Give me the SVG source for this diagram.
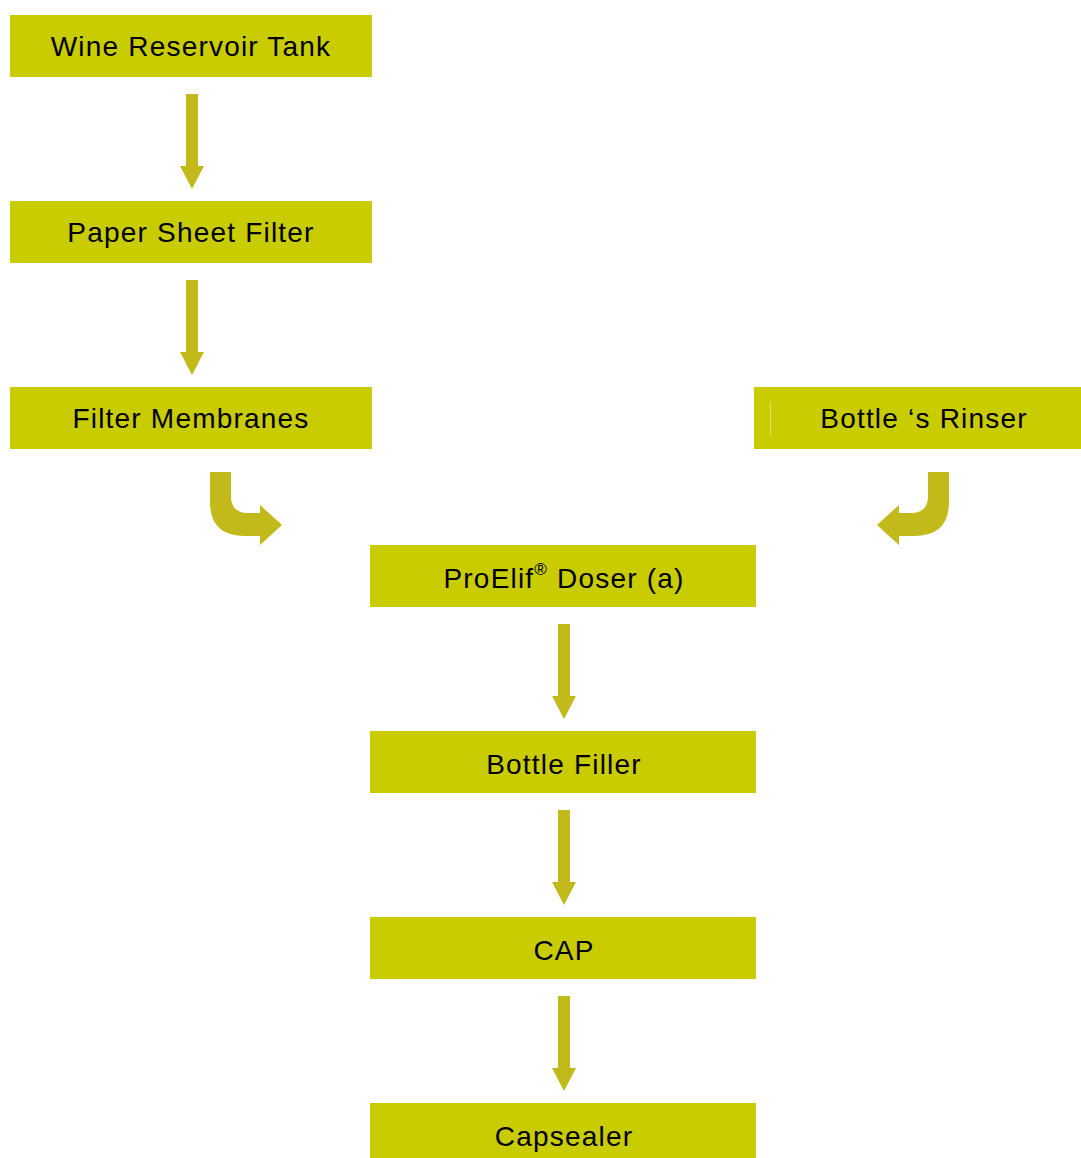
<svg xmlns="http://www.w3.org/2000/svg" width="1081" height="1158" viewBox="0 0 1081 1158">
<style>
.box{fill:#c8cc00}
.lbl{font-family:"Liberation Sans",Arial,sans-serif;font-size:28px;letter-spacing:1.2px;fill:#000;text-anchor:middle;dominant-baseline:central}
.sup{font-size:17px;baseline-shift:9px}
.arr{fill:#c2b91b}
</style>
<defs>
<path id="down" d="M-6,0 L6,0 L6,72 L12,72 L0,95 L-12,72 L-6,72 Z"/>
</defs>
<rect width="1081" height="1158" fill="#fff"/>
<g id="wine-reservoir-tank"><rect class="box" x="10" y="15" width="362" height="62"/><text class="lbl" x="191" y="46">Wine Reservoir Tank</text></g>
<g id="paper-sheet-filter"><rect class="box" x="10" y="201" width="362" height="62"/><text class="lbl" x="191" y="232">Paper Sheet Filter</text></g>
<g id="filter-membranes"><rect class="box" x="10" y="387" width="362" height="62"/><text class="lbl" x="191" y="418">Filter Membranes</text></g>
<g id="bottles-rinser"><rect class="box" x="754" y="387" width="327" height="62"/><line x1="770.5" y1="402" x2="770.5" y2="435" stroke="#dfe27a" stroke-width="1"/><text class="lbl" x="924" y="418">Bottle ‘s Rinser</text></g>
<g id="proelif-doser"><rect class="box" x="370" y="545" width="386" height="62"/><text class="lbl" x="564" y="578">ProElif<tspan class="sup">®</tspan> Doser (a)</text></g>
<g id="bottle-filler"><rect class="box" x="370" y="731" width="386" height="62"/><text class="lbl" x="564" y="764">Bottle Filler</text></g>
<g id="cap"><rect class="box" x="370" y="917" width="386" height="62"/><text class="lbl" x="564" y="950">CAP</text></g>
<g id="capsealer"><rect class="box" x="370" y="1103" width="386" height="62"/><text class="lbl" x="564" y="1136">Capsealer</text></g>
<g id="connectors" class="arr">
<use href="#down" x="192" y="94"/>
<use href="#down" x="192" y="280"/>
<use href="#down" x="564" y="624"/>
<use href="#down" x="564" y="810"/>
<use href="#down" x="564" y="996"/>
<path d="M210,472 L231,472 L231,496 Q231,513 248,513 L260,513 L260,505 L282,525 L260,545 L260,536 L245,536 Q210,536 210,502 Z"/>
<path d="M949,472 L928,472 L928,496 Q928,513 911,513 L899,513 L899,505 L877,525 L899,545 L899,536 L914,536 Q949,536 949,502 Z"/>
</g>
</svg>
